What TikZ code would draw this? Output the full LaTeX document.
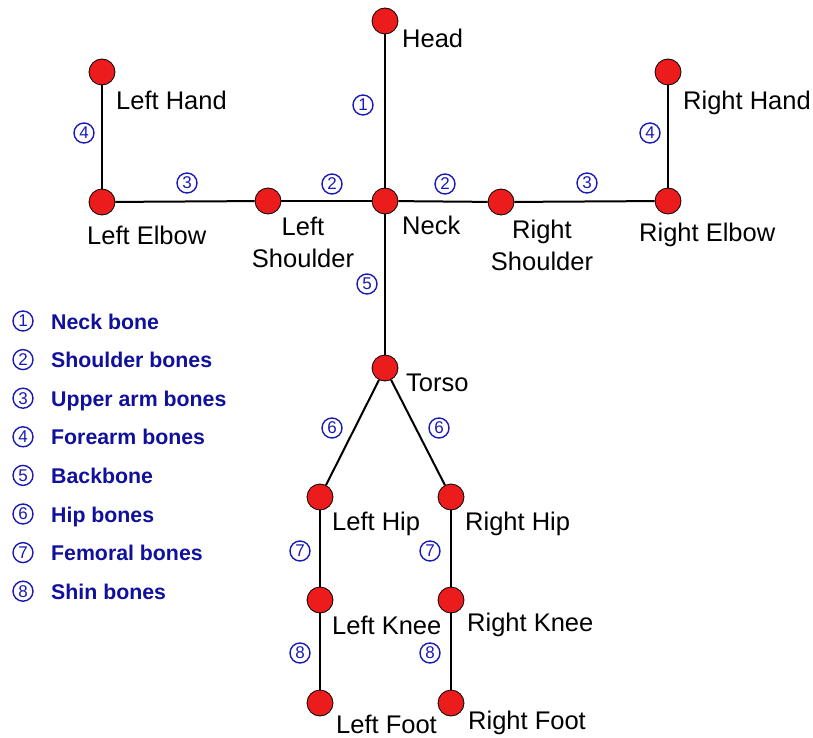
\documentclass[tikz,border=0pt]{standalone}
\usepackage{fontspec}
\setmainfont{Liberation Sans}
\definecolor{jointred}{HTML}{EC1C1C}
\definecolor{numblue}{HTML}{1A1AB4}
\definecolor{legblue}{HTML}{10109C}
\tikzset{
  joint/.style={circle,draw=black,line width=0.8pt,fill=jointred,minimum size=26pt,inner sep=0pt},
  bone/.style={line width=2pt,black},
  lbl/.style={anchor=base west,inner sep=0pt,font=\fontsize{25.5}{32}\selectfont},
  lblc/.style={anchor=base,inner sep=0pt,align=center,font=\fontsize{25.5}{32}\selectfont},
  num/.style={circle,draw=numblue,line width=1.4pt,text=numblue,minimum size=20pt,inner sep=0pt,font=\fontsize{17}{17}\selectfont},
  leg/.style={anchor=base west,inner sep=0pt,text=legblue,font=\fontsize{21.3}{21}\selectfont\bfseries}
}
\begin{document}
\begin{tikzpicture}[x=1pt,y=-1pt]
\useasboundingbox (0,0) rectangle (813,738);
% joints
\node[joint] (head) at (385,21) {};
\node[joint] (neck) at (385,201) {};
\node[joint] (lsh) at (268,201) {};
\node[joint] (lel) at (102,202) {};
\node[joint] (lha) at (102,72) {};
\node[joint] (rsh) at (501,202) {};
\node[joint] (rel) at (668,201) {};
\node[joint] (rha) at (668,72) {};
\node[joint] (torso) at (385,368) {};
\node[joint] (lhip) at (320,497) {};
\node[joint] (rhip) at (451,497) {};
\node[joint] (lknee) at (320,600) {};
\node[joint] (rknee) at (451,600) {};
\node[joint] (lfoot) at (320,703) {};
\node[joint] (rfoot) at (451,703) {};
% bones
\draw[bone] (head) -- (neck);
\draw[bone] (neck) -- (lsh);
\draw[bone] (lsh) -- (lel);
\draw[bone] (lel) -- (lha);
\draw[bone] (neck) -- (rsh);
\draw[bone] (rsh) -- (rel);
\draw[bone] (rel) -- (rha);
\draw[bone] (neck) -- (torso);
\draw[bone] (torso) -- (lhip);
\draw[bone] (torso) -- (rhip);
\draw[bone] (lhip) -- (lknee);
\draw[bone] (lknee) -- (lfoot);
\draw[bone] (rhip) -- (rknee);
\draw[bone] (rknee) -- (rfoot);
% labels
\node[lbl] (thead) at (402,48) {Head};
\node[lbl] (tlha) at (116,110) {Left Hand};
\node[lbl] (trha) at (683,110) {Right Hand};
\node[lbl] (tlel) at (87,244) {Left Elbow};
\node[lblc] (tlsh1) at (303,235) {Left};
\node[lblc] (tlsh2) at (303,267) {Shoulder};
\node[lbl] (tneck) at (402,234) {Neck};
\node[lblc] (trsh1) at (542,238) {Right};
\node[lblc] (trsh2) at (542,270) {Shoulder};
\node[lbl] (trel) at (639,241) {Right Elbow};
\node[lbl] (ttorso) at (406,391) {Torso};
\node[lbl] (tlhip) at (332,530) {Left Hip};
\node[lbl] (trhip) at (465,530) {Right Hip};
\node[lbl] (tlknee) at (332,634) {Left Knee};
\node[lbl] (trknee) at (467,631) {Right Knee};
\node[lbl] (tlfoot) at (336,733) {Left Foot};
\node[lbl] (trfoot) at (468,729) {Right Foot};
% bone numbers
\node[num] (n1) at (363,105) {1};
\node[num] (n2l) at (332,184) {2};
\node[num] (n2r) at (445,184) {2};
\node[num] (n3l) at (187,183) {3};
\node[num] (n3r) at (587,183) {3};
\node[num] (n4l) at (84,133) {4};
\node[num] (n4r) at (650,133) {4};
\node[num] (n5) at (367,284) {5};
\node[num] (n6l) at (332,428) {6};
\node[num] (n6r) at (439,428) {6};
\node[num] (n7l) at (300,551) {7};
\node[num] (n7r) at (430,551) {7};
\node[num] (n8l) at (300,653) {8};
\node[num] (n8r) at (430,653) {8};
% legend
\foreach \i/\t [count=\k from 0] in {1/Neck bone,2/Shoulder bones,3/Upper arm bones,4/Forearm bones,5/Backbone,6/Hip bones,7/Femoral bones,8/Shin bones}{
  \node[num] (ln\i) at (23,321+38.6*\k) {\i};
  \node[leg] (lt\i) at (51,329+38.6*\k) {\t};
}
\end{tikzpicture}
\end{document}
